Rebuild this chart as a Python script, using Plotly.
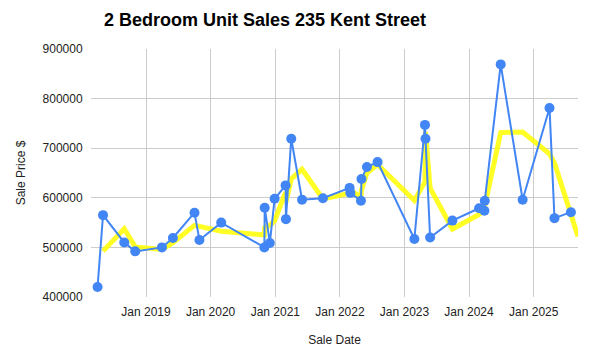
import pandas as pd
import plotly.graph_objects as go

# ---- data ----
sale_dates = [
    "2018-04-02", "2018-05-03", "2018-08-31", "2018-11-01", "2019-04-01",
    "2019-06-02", "2019-10-02", "2019-10-30", "2020-03-01", "2020-10-31",
    "2020-11-02", "2020-12-01", "2020-12-28", "2021-02-28", "2021-03-02",
    "2021-04-01", "2021-06-01", "2021-09-27", "2022-02-25", "2022-03-01",
    "2022-04-30", "2022-05-03", "2022-06-03", "2022-08-02", "2023-02-26",
    "2023-04-27", "2023-04-30", "2023-05-26", "2023-09-29", "2024-02-27",
    "2024-03-28", "2024-03-30", "2024-06-28", "2024-10-30", "2025-03-31",
    "2025-04-28", "2025-07-30",
]
sale_prices = [
    420000, 565000, 510000, 492000, 500000,
    519000, 570000, 515000, 550000, 500000,
    580000, 509000, 598000, 625000, 557000,
    719000, 596000, 599000, 620000, 610000,
    594000, 638000, 662000, 672000, 517000,
    747000, 719000, 520000, 554000, 579000,
    574000, 594000, 869000, 596000, 781000,
    559000, 571000,
]
# trend line leaves the plot at the right edge at about this point
trend_tail_date = "2025-09-08"
trend_tail_value = 522000

x_range = ["2018-02-24", "2025-09-08"]
y_range = [400000, 900000]
y_ticks = [400000, 500000, 600000, 700000, 800000, 900000]

title_text = "2 Bedroom Unit Sales 235 Kent Street"
x_title = "Sale Date"
y_title = "Sale Price $"

# 2-period moving average trendline
df = pd.DataFrame({"date": pd.to_datetime(sale_dates), "price": sale_prices})
df["ma"] = df["price"].rolling(2).mean()
trend = df.dropna()
trend_x = list(trend["date"]) + [pd.Timestamp(trend_tail_date)]
trend_y = list(trend["ma"]) + [trend_tail_value]

FONT = "Arial, 'Liberation Sans', sans-serif"
W, H = 573, 342  # page body has an 8px margin

fig = go.Figure()
fig.add_trace(go.Scatter(
    x=trend_x, y=trend_y, mode="lines",
    line=dict(color="#ffff00", width=5), opacity=0.85,
    hoverinfo="skip", showlegend=False,
))
fig.add_trace(go.Scatter(
    x=df["date"], y=df["price"], mode="lines+markers",
    line=dict(color="#4285f4", width=2),
    marker=dict(color="#4285f4", size=10),
    showlegend=False,
))

fig.update_layout(
    width=W, height=H,
    margin=dict(l=83, r=3, t=41, b=53, pad=0),
    paper_bgcolor="white", plot_bgcolor="white",
    font=dict(family=FONT, size=12, color="#222222"),
    title=dict(text=f"<b>{title_text}</b>", x=96 / W, xanchor="left",
               y=1 - 12 / H, yanchor="middle",
               font=dict(family=FONT, size=18, color="#000000")),
    xaxis=dict(
        type="date", range=x_range, tick0="2019-01-01", dtick="M12",
        tickformat="%b %Y", showgrid=True, gridcolor="#cccccc", gridwidth=1,
        zeroline=False, showline=False,
        ticks="outside", ticklen=4, tickcolor="rgba(0,0,0,0)",
        tickfont=dict(size=12, color="#222222"),
        title=dict(text=x_title, font=dict(size=12, color="#222222"), standoff=17),
    ),
    yaxis=dict(
        range=y_range, tickvals=y_ticks, tickformat="d",
        showgrid=True, gridcolor="#cccccc", gridwidth=1,
        zeroline=False, showline=False,
        ticks="outside", ticklen=5, tickcolor="rgba(0,0,0,0)",
        tickfont=dict(size=12, color="#222222"),
        title=dict(text=y_title, font=dict(size=12, color="#222222"), standoff=14),
    ),
)

fig.write_html("out.html")
